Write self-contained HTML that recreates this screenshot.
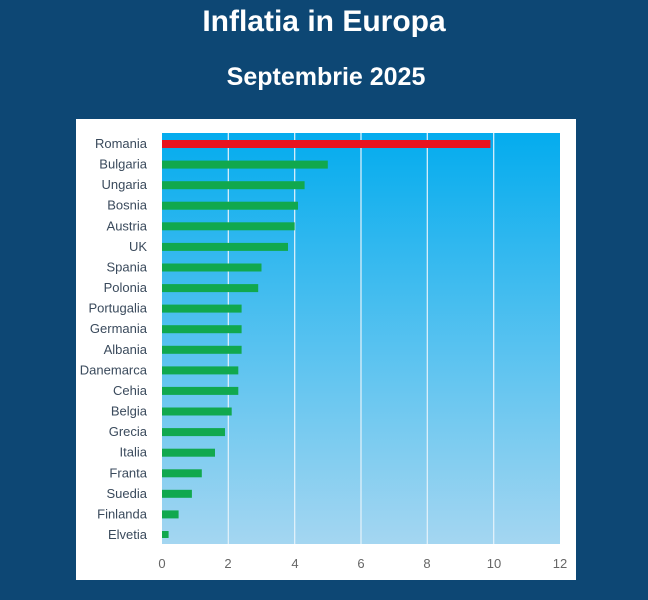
<!DOCTYPE html>
<html><head><meta charset="utf-8"><style>
body{margin:0;background:#0d4774;width:648px;height:595px;overflow:hidden}
</style></head><body>
<svg width="648" height="595" xmlns="http://www.w3.org/2000/svg" font-family="Liberation Sans, sans-serif">
<defs><linearGradient id="g" x1="0" y1="0" x2="0" y2="1">
<stop offset="0" stop-color="#04acee"/><stop offset="1" stop-color="#a4d6f1"/></linearGradient></defs>
<rect width="648" height="595" fill="#0d4774"/>
<text x="324" y="31" text-anchor="middle" fill="#fff" font-size="30" font-weight="bold">Inflatia in Europa</text>
<text x="326" y="85" text-anchor="middle" fill="#fff" font-size="25" font-weight="bold">Septembrie 2025</text>
<rect x="76" y="119" width="500" height="461" fill="#fff"/>
<rect x="162" y="133" width="398" height="411" fill="url(#g)"/>
<g stroke="#e6f3fb" stroke-width="1.2">
<line x1="228.3" y1="133" x2="228.3" y2="544"/><line x1="294.7" y1="133" x2="294.7" y2="544"/>
<line x1="361" y1="133" x2="361" y2="544"/><line x1="427.3" y1="133" x2="427.3" y2="544"/>
<line x1="493.7" y1="133" x2="493.7" y2="544"/>
</g>
<g fill="#666" font-size="13" text-anchor="middle">
<text x="162" y="568">0</text><text x="228" y="568">2</text><text x="295" y="568">4</text><text x="361" y="568">6</text><text x="427" y="568">8</text><text x="494" y="568">10</text><text x="560" y="568">12</text>
</g>
<g font-size="13" fill="#3a4a5c" text-anchor="end">
<rect x="162" y="140" width="328.4" height="8" fill="#e8141e"/>
<text x="147" y="148">Romania</text>
<rect x="162" y="160.6" width="165.8" height="8" fill="#11a84e"/><text x="147" y="168.6">Bulgaria</text>
<rect x="162" y="181.2" width="142.6" height="8" fill="#11a84e"/><text x="147" y="189.2">Ungaria</text>
<rect x="162" y="201.7" width="136" height="8" fill="#11a84e"/><text x="147" y="209.7">Bosnia</text>
<rect x="162" y="222.3" width="132.7" height="8" fill="#11a84e"/><text x="147" y="230.3">Austria</text>
<rect x="162" y="242.9" width="126" height="8" fill="#11a84e"/><text x="147" y="250.9">UK</text>
<rect x="162" y="263.5" width="99.5" height="8" fill="#11a84e"/><text x="147" y="271.5">Spania</text>
<rect x="162" y="284.1" width="96.2" height="8" fill="#11a84e"/><text x="147" y="292.1">Polonia</text>
<rect x="162" y="304.6" width="79.6" height="8" fill="#11a84e"/><text x="147" y="312.6">Portugalia</text>
<rect x="162" y="325.2" width="79.6" height="8" fill="#11a84e"/><text x="147" y="333.2">Germania</text>
<rect x="162" y="345.8" width="79.6" height="8" fill="#11a84e"/><text x="147" y="353.8">Albania</text>
<rect x="162" y="366.4" width="76.3" height="8" fill="#11a84e"/><text x="147" y="374.4">Danemarca</text>
<rect x="162" y="386.9" width="76.3" height="8" fill="#11a84e"/><text x="147" y="394.9">Cehia</text>
<rect x="162" y="407.5" width="69.7" height="8" fill="#11a84e"/><text x="147" y="415.5">Belgia</text>
<rect x="162" y="428.1" width="63" height="8" fill="#11a84e"/><text x="147" y="436.1">Grecia</text>
<rect x="162" y="448.7" width="53" height="8" fill="#11a84e"/><text x="147" y="456.7">Italia</text>
<rect x="162" y="469.3" width="39.8" height="8" fill="#11a84e"/><text x="147" y="477.3">Franta</text>
<rect x="162" y="489.8" width="29.9" height="8" fill="#11a84e"/><text x="147" y="497.8">Suedia</text>
<rect x="162" y="510.4" width="16.6" height="8" fill="#11a84e"/><text x="147" y="518.4">Finlanda</text>
<rect x="162" y="531" width="6.6" height="7" fill="#11a84e"/><text x="147" y="539">Elvetia</text>
</g>
</svg>
</body></html>
